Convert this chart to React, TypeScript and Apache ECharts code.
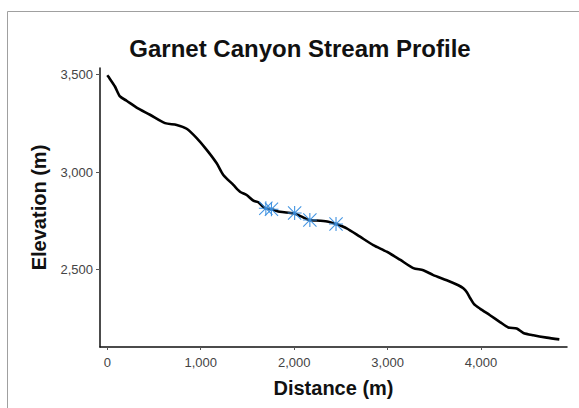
import React, { useEffect, useRef } from "react";
import * as echarts from "echarts";

const distance = [0, 11, 82, 136, 207, 314, 457, 618, 743, 850, 957, 1064, 1171, 1242, 1349, 1420, 1492, 1563, 1616, 1688, 1760, 1848, 1991, 2081, 2162, 2277, 2366, 2448, 2562, 2705, 2847, 2990, 3133, 3275, 3382, 3489, 3633, 3757, 3810, 3850, 3885, 3925, 3989, 4096, 4203, 4292, 4382, 4453, 4560, 4703, 4838];
const elevation = [3497, 3490, 3439, 3388, 3366, 3331, 3294, 3251, 3242, 3222, 3174, 3114, 3045, 2985, 2934, 2899, 2882, 2853, 2845, 2814, 2809, 2796, 2788, 2771, 2754, 2750, 2745, 2733, 2711, 2668, 2625, 2591, 2550, 2507, 2496, 2471, 2445, 2419, 2403, 2382, 2352, 2322, 2299, 2265, 2230, 2202, 2197, 2174, 2162, 2150, 2141];

const markerDistance = [1697, 1757, 2005, 2168, 2448];
const markerElevation = [2814, 2809, 2790, 2754, 2733];

const xTicks = [0, 1000, 2000, 3000, 4000];
const yTicks = [2500, 3000, 3500];

const titleText = "Garnet Canyon Stream Profile";
const xName = "Distance (m)";
const yName = "Elevation (m)";

const asterisk =
  "path://M0 9.2H20V10.8H0Z M9.2 0H10.8V20H9.2Z M1.1 0L20 18.9L18.9 20L0 1.1Z M18.9 0L20 1.1L1.1 20L0 18.9Z";

const fmt = (v: number) => Number(v).toLocaleString("en-US");

export default function App() {
  const ref = useRef<HTMLDivElement>(null);
  useEffect(() => {
    if (!ref.current) return;
    const chart = echarts.init(ref.current, undefined, { renderer: "svg" });
    const font = "'Liberation Sans', Arial, sans-serif";
    chart.setOption({
      animation: false,
      backgroundColor: "#ffffff",
      textStyle: { fontFamily: font },
      title: {
        text: titleText,
        left: 295,
        textAlign: "center",
        top: 31,
        textStyle: { fontFamily: font, fontSize: 24, fontWeight: "bold", color: "#111" },
      },
      graphic: [
        {
          type: "rect",
          shape: { x: 7.5, y: 11.5, width: 700, height: 600 },
          style: { fill: "none", stroke: "#a0a0a0", lineWidth: 1 },
          silent: true,
        },
      ],
      grid: { left: 100, right: 12, top: 68, bottom: 61, containLabel: false },
      xAxis: {
        type: "value",
        min: -78,
        max: 4920,
        name: xName,
        nameLocation: "middle",
        nameGap: 31,
        nameTextStyle: { fontFamily: font, fontSize: 20, fontWeight: "bold", color: "#111" },
        splitLine: { show: false },
        axisLine: { show: true, onZero: false, lineStyle: { color: "#111", width: 1.5 } },
        axisTick: { show: true, length: 3, customValues: xTicks, lineStyle: { color: "#555" } },
        axisLabel: {
          customValues: xTicks,
          formatter: fmt,
          margin: 9,
          fontSize: 13,
          color: "#444",
          fontFamily: font,
        },
      },
      yAxis: {
        type: "value",
        min: 2102,
        max: 3534,
        name: yName,
        nameLocation: "middle",
        nameGap: 51,
        nameRotate: 90,
        nameTextStyle: { fontFamily: font, fontSize: 20, fontWeight: "bold", color: "#111" },
        splitLine: { show: false },
        axisLine: { show: true, onZero: false, lineStyle: { color: "#111", width: 1.5 } },
        axisTick: { show: true, length: 4, customValues: yTicks, lineStyle: { color: "#555" } },
        axisLabel: {
          customValues: yTicks,
          formatter: fmt,
          margin: 7,
          fontSize: 13,
          color: "#444",
          fontFamily: font,
        },
      },
      series: [
        {
          type: "line",
          data: distance.map((d, i) => [d, elevation[i]]),
          showSymbol: false,
          symbol: "none",
          smooth: 0.25,
          lineStyle: { color: "#000", width: 2.6 },
          z: 2,
        },
        {
          type: "scatter",
          data: markerDistance.map((d, i) => [d, markerElevation[i]]),
          symbol: asterisk,
          symbolSize: 14,
          itemStyle: { color: "#3a8fe0", opacity: 0.95 },
          z: 3,
        },
      ],
    });
    return () => chart.dispose();
  }, []);
  return (
    <div
      ref={ref}
      style={{ position: "fixed", left: 0, top: 0, width: 579, height: 408 }}
    />
  );
}
